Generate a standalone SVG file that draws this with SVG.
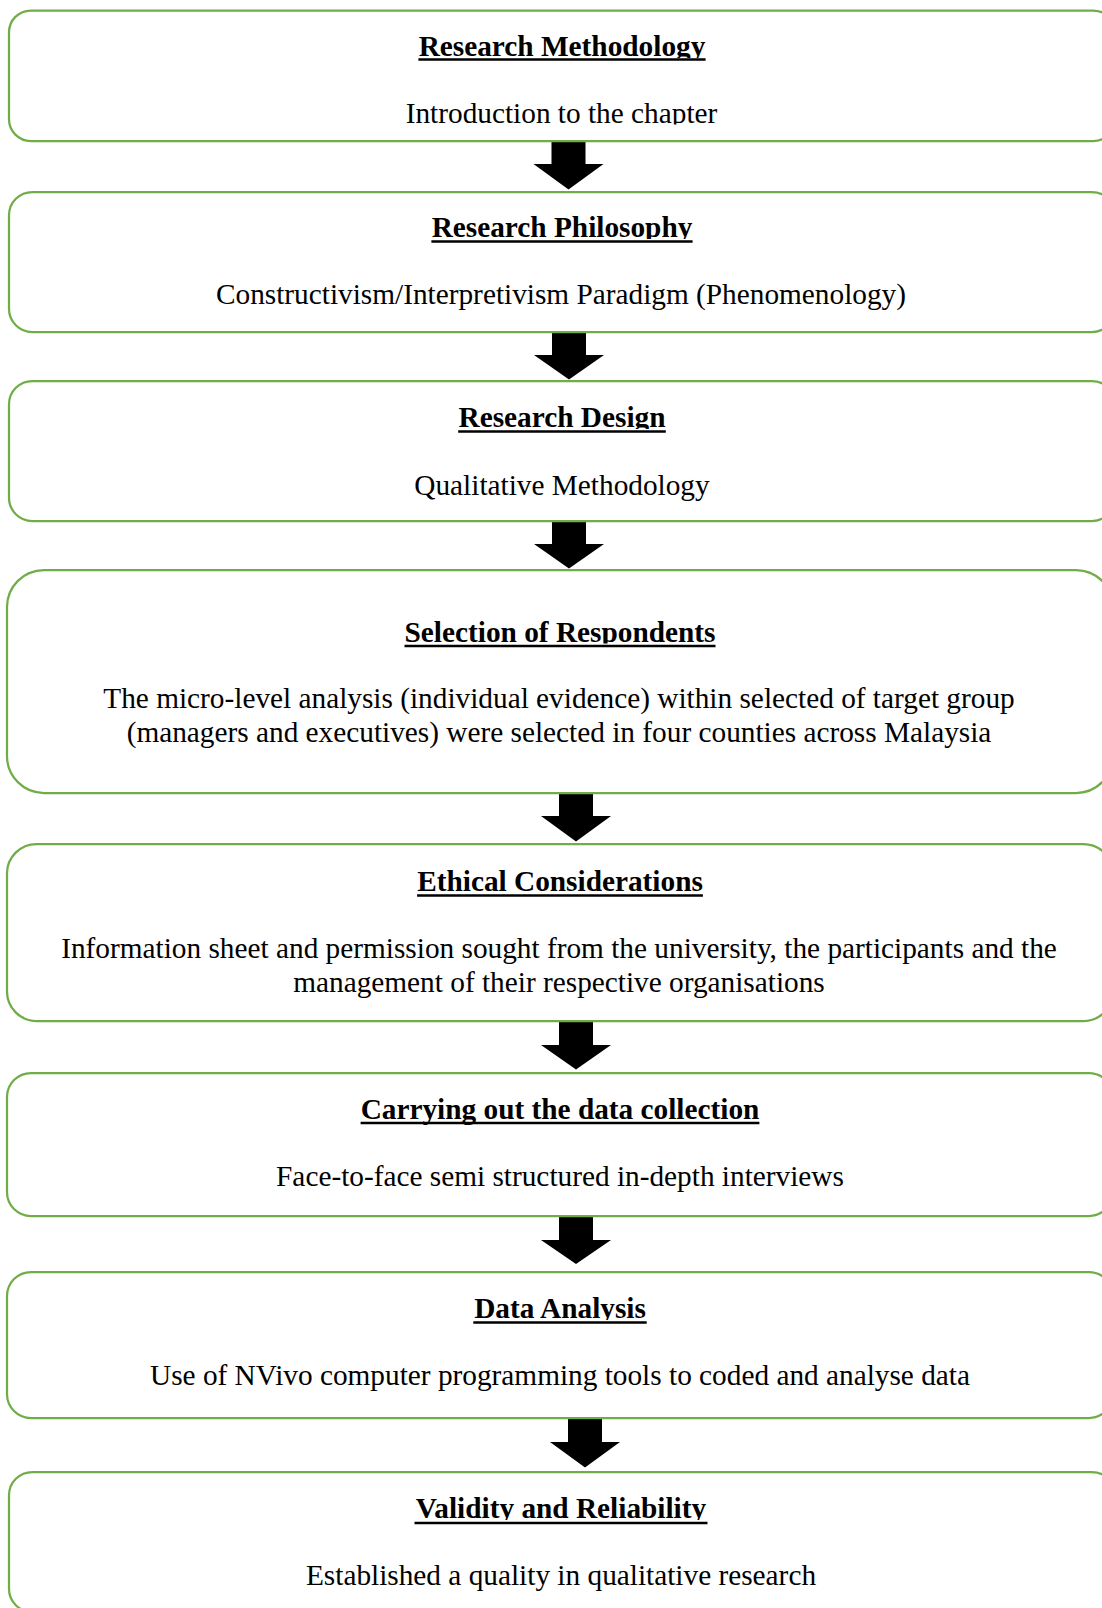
<svg xmlns="http://www.w3.org/2000/svg" width="1102" height="1608" viewBox="0 0 1102 1608">
<style>
.box{fill:#ffffff;stroke:#70AD47;stroke-width:2.25}
.t{font-family:"Liberation Serif","Times New Roman",serif;font-size:29.3px;font-weight:bold;fill:#000;text-anchor:middle}
.s{font-family:"Liberation Serif","Times New Roman",serif;font-size:29.3px;fill:#000;text-anchor:middle}
.u{stroke:#000;stroke-width:2.6}
.arr{fill:#000}
</style>
<defs>
<clipPath id="c1t"><rect x="0" y="10" width="1102" height="48"/></clipPath>
<clipPath id="c1s"><rect x="0" y="70" width="1102" height="54.5"/></clipPath>
<clipPath id="c2t"><rect x="0" y="192" width="1102" height="47"/></clipPath>
<clipPath id="c3t"><rect x="0" y="381" width="1102" height="48"/></clipPath>
<clipPath id="c4t"><rect x="0" y="570" width="1102" height="73.5"/></clipPath>
<clipPath id="c7t"><rect x="0" y="1272" width="1102" height="48"/></clipPath>
<clipPath id="c8t"><rect x="0" y="1472" width="1102" height="48"/></clipPath>
</defs>

<g id="connectors">
<polygon class="arr" points="551.5,141 585.5,141 585.5,164 603.5,164 568.5,189.5 533.5,164 551.5,164"/>
<polygon class="arr" points="552,332 586,332 586,355 604,355 569,379.5 534,355 552,355"/>
<polygon class="arr" points="552,521 586,521 586,544 604,544 569,568.5 534,544 552,544"/>
<polygon class="arr" points="559,793 593,793 593,816 611,816 576,841.5 541,816 559,816"/>
<polygon class="arr" points="559,1021 593,1021 593,1045 611,1045 576,1069.5 541,1045 559,1045"/>
<polygon class="arr" points="559,1216 593,1216 593,1240 611,1240 576,1264 541,1240 559,1240"/>
<polygon class="arr" points="568,1418 602,1418 602,1442 620,1442 585,1467.5 550,1442 568,1442"/>
</g>

<g id="node1">
<rect class="box" x="9" y="10.5" width="1106" height="130.5" rx="21.75" ry="21.75"/>
<text class="t" x="562" y="55.7" clip-path="url(#c1t)">Research Methodology</text>
<line class="u" x1="418.4" y1="59.5" x2="705.6" y2="59.5"/>
<text class="s" x="561.5" y="122.9" clip-path="url(#c1s)">Introduction to the chapter</text>
</g>

<g id="node2">
<rect class="box" x="9" y="192" width="1106" height="140" rx="23.3" ry="23.3"/>
<text class="t" x="562" y="237.2" clip-path="url(#c2t)">Research Philosophy</text>
<line class="u" x1="431.4" y1="241.5" x2="692.6" y2="241.5"/>
<text class="s" x="561" y="304.2">Constructivism/Interpretivism Paradigm (Phenomenology)</text>
</g>

<g id="node3">
<rect class="box" x="9" y="381" width="1106" height="140" rx="23.3" ry="23.3"/>
<text class="t" x="562" y="427.2" clip-path="url(#c3t)">Research Design</text>
<line class="u" x1="458.2" y1="431.5" x2="665.8" y2="431.5"/>
<text class="s" x="562" y="494.7">Qualitative Methodology</text>
</g>

<g id="node4">
<rect class="box" x="7" y="570" width="1106" height="223" rx="37" ry="37"/>
<text class="t" x="560" y="641.7" clip-path="url(#c4t)">Selection of Respondents</text>
<line class="u" x1="404.5" y1="646" x2="715.5" y2="646"/>
<text class="s" x="559" y="708.2">The micro-level analysis (individual evidence) within selected of target group</text>
<text class="s" x="559" y="742.2">(managers and executives) were selected in four counties across Malaysia</text>
</g>

<g id="node5">
<rect class="box" x="7" y="844" width="1106" height="177" rx="29.5" ry="29.5"/>
<text class="t" x="560" y="891.2">Ethical Considerations</text>
<line class="u" x1="417.1" y1="895.5" x2="702.9" y2="895.5"/>
<text class="s" x="559" y="958.4">Information sheet and permission sought from the university, the participants and the</text>
<text class="s" x="559" y="991.9">management of their respective organisations</text>
</g>

<g id="node6">
<rect class="box" x="7" y="1073" width="1106" height="143" rx="24" ry="24"/>
<text class="t" x="560" y="1118.7">Carrying out the data collection</text>
<line class="u" x1="360.6" y1="1123" x2="759.4" y2="1123"/>
<text class="s" x="560" y="1186.2">Face-to-face semi structured in-depth interviews</text>
</g>

<g id="node7">
<rect class="box" x="7" y="1272" width="1106" height="146" rx="24" ry="24"/>
<text class="t" x="560" y="1318.2" clip-path="url(#c7t)">Data Analysis</text>
<line class="u" x1="473.3" y1="1322.5" x2="646.7" y2="1322.5"/>
<text class="s" x="560" y="1385.2">Use of NVivo computer programming tools to coded and analyse data</text>
</g>

<g id="node8">
<rect class="box" x="9" y="1472" width="1106" height="140" rx="23.3" ry="23.3"/>
<text class="t" x="561" y="1518.2" clip-path="url(#c8t)">Validity and Reliability</text>
<line class="u" x1="414.5" y1="1523" x2="707.5" y2="1523"/>
<text class="s" x="561" y="1585.2">Established a quality in qualitative research</text>
</g>
</svg>
